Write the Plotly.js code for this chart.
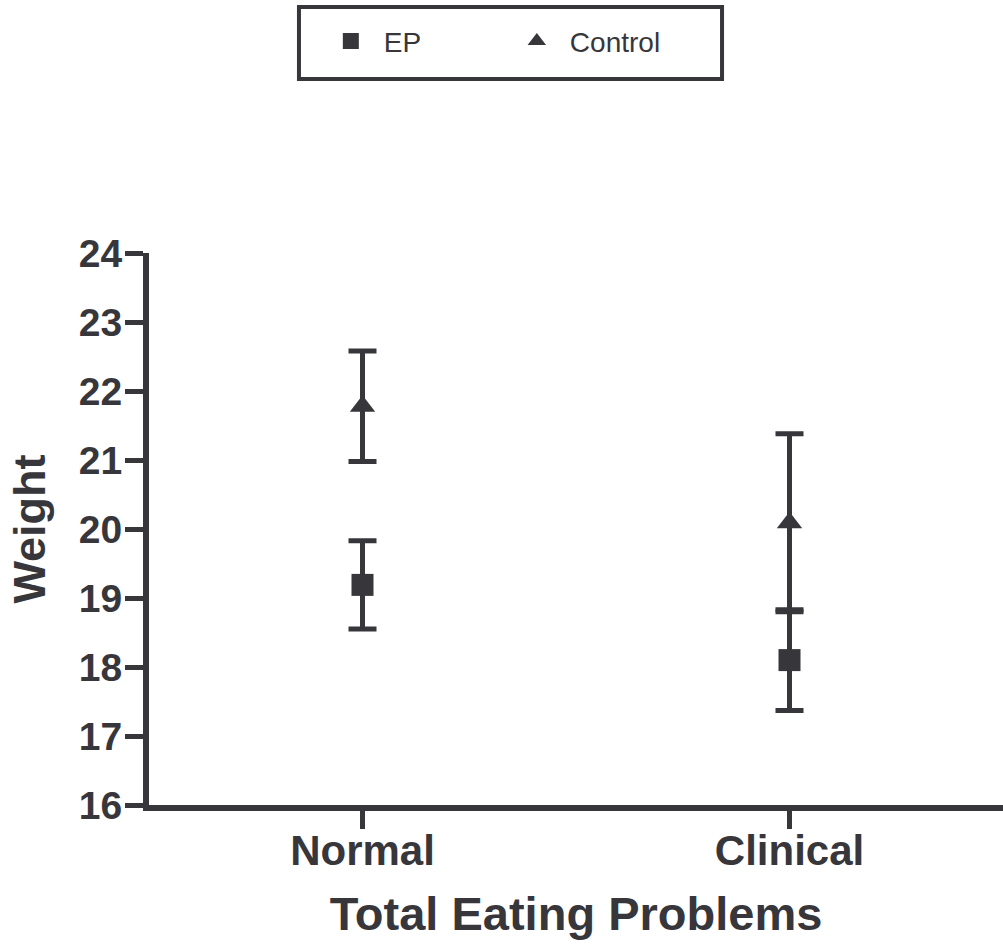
<!DOCTYPE html>
<html>
<head>
<meta charset="utf-8">
<script src="https://cdn.plot.ly/plotly-3.0.1.min.js"></script>
<style>html,body{margin:0;padding:0;background:#fff;}</style>
</head>
<body>
<div id="chart" style="width:1003px;height:944px;"></div>
<script>
var categories = ["Normal", "Clinical"];
var epMean = [19.19, 18.10];
var epErr = [0.64, 0.73];
var controlMean = [21.78, 20.09];
var controlErr = [0.80, 1.29];
var yTicks = [16, 17, 18, 19, 20, 21, 22, 23, 24];

var ink = "#37363b";
var font = "Liberation Sans, Arial, Helvetica, sans-serif";

var traces = [
  {
    name: "EP", type: "scatter", mode: "markers",
    x: categories, y: epMean,
    marker: {symbol: "square", size: 22, color: ink},
    error_y: {type: "data", array: epErr, visible: true, thickness: 5, width: 14, color: ink},
    cliponaxis: false
  },
  {
    name: "Control", type: "scatter", mode: "markers",
    x: categories, y: controlMean,
    marker: {symbol: "triangle-up", size: 22, color: ink},
    error_y: {type: "data", array: controlErr, visible: true, thickness: 5, width: 14, color: ink},
    cliponaxis: false
  }
];

var layout = {
  width: 1003, height: 944,
  margin: {l: 149, r: 0, t: 253, b: 139, pad: 0},
  paper_bgcolor: "#fff", plot_bgcolor: "#fff",
  font: {family: font, color: ink},
  showlegend: true,
  legend: {
    orientation: "h", x: 0.1977, xanchor: "left", y: 1.429, yanchor: "top",
    borderwidth: 0, bgcolor: "rgba(0,0,0,0)",
    font: {family: font, size: 28, color: ink},
    entrywidth: 115, entrywidthmode: "pixels", itemwidth: 56
  },
  shapes: [
    {type: "rect", xref: "paper", yref: "paper",
     x0: 0.1756, x1: 0.6710, y0: 1.3152, y1: 1.4457,
     line: {color: ink, width: 4}, fillcolor: "rgba(0,0,0,0)"}
  ],
  xaxis: {
    type: "category", range: [-0.5, 1.5],
    showgrid: false, zeroline: false,
    showline: true, linecolor: ink, linewidth: 6,
    ticks: "outside", ticklen: 18, tickwidth: 5, tickcolor: ink,
    ticklabelstandoff: -14,
    tickfont: {family: font, size: 42, color: ink, weight: "bold"},
    title: {text: "<b>Total Eating Problems</b>", font: {family: font, size: 47, color: ink}, standoff: 26},
    automargin: false, fixedrange: true
  },
  yaxis: {
    range: [16, 24], tickvals: yTicks, ticktext: yTicks.map(String),
    showgrid: false, zeroline: false,
    showline: true, linecolor: ink, linewidth: 6,
    ticks: "outside", ticklen: 18, tickwidth: 5, tickcolor: ink,
    ticklabelstandoff: -5,
    tickfont: {family: font, size: 39, color: ink, weight: "bold"},
    title: {text: "<b>Weight</b>", font: {family: font, size: 45, color: ink}, standoff: 21},
    automargin: false, fixedrange: true
  }
};

Plotly.newPlot("chart", traces, layout, {displayModeBar: false, staticPlot: true});
</script>
</body>
</html>
